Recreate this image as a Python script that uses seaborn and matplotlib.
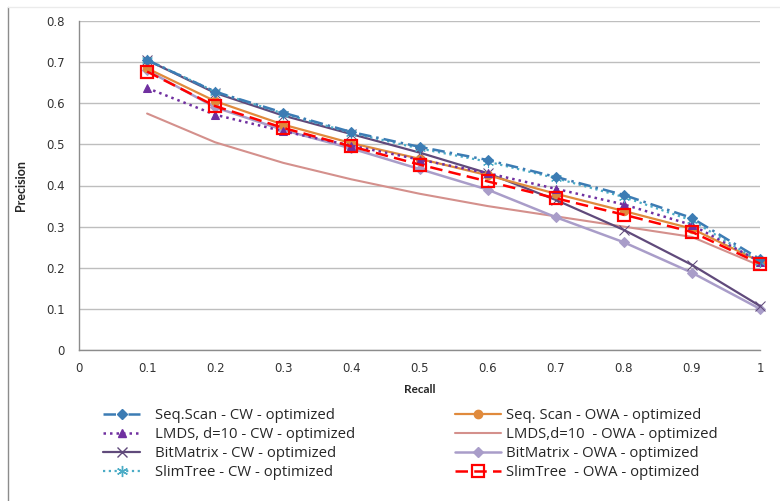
import matplotlib
matplotlib.use("Agg")
import matplotlib.pyplot as plt
import seaborn as sns
import pandas as pd
from matplotlib.lines import Line2D

recall = [0.1, 0.2, 0.3, 0.4, 0.5, 0.6, 0.7, 0.8, 0.9, 1.0]

seqscan_cw = [0.705, 0.628, 0.577, 0.530, 0.494, 0.462, 0.421, 0.377, 0.321, 0.221]
lmds_cw = [0.637, 0.572, 0.532, 0.497, 0.463, 0.430, 0.392, 0.354, 0.304, 0.215]
bitmatrix_cw = [0.705, 0.625, 0.570, 0.525, 0.480, 0.430, 0.365, 0.292, 0.207, 0.107]
slimtree_cw = [0.706, 0.628, 0.575, 0.528, 0.490, 0.458, 0.418, 0.372, 0.315, 0.215]
seqscan_owa = [0.685, 0.605, 0.548, 0.503, 0.465, 0.425, 0.380, 0.338, 0.295, 0.215]
lmds_owa = [0.575, 0.505, 0.455, 0.415, 0.380, 0.350, 0.325, 0.300, 0.275, 0.205]
bitmatrix_owa = [0.680, 0.590, 0.535, 0.490, 0.440, 0.390, 0.323, 0.262, 0.188, 0.100]
slimtree_owa = [0.677, 0.593, 0.540, 0.495, 0.451, 0.410, 0.369, 0.329, 0.287, 0.210]

cw_labels = ["Seq.Scan - CW - optimized", "LMDS, d=10 - CW - optimized",
             "BitMatrix - CW - optimized", "SlimTree - CW - optimized"]
owa_labels = ["Seq. Scan - OWA - optimized", "LMDS,d=10  - OWA - optimized",
              "BitMatrix - OWA - optimized", "SlimTree  - OWA - optimized"]

x_ticks = [0, 0.1, 0.2, 0.3, 0.4, 0.5, 0.6, 0.7, 0.8, 0.9, 1.0]
x_ticklabels = ["0", "0.1", "0.2", "0.3", "0.4", "0.5", "0.6", "0.7", "0.8", "0.9", "1"]
y_ticks = [0, 0.1, 0.2, 0.3, 0.4, 0.5, 0.6, 0.7, 0.8]
y_ticklabels = ["0", "0.1", "0.2", "0.3", "0.4", "0.5", "0.6", "0.7", "0.8"]

sns.set_style("white")
plt.rcParams["font.family"] = ["DejaVu Sans"]

fig = plt.figure(figsize=(7.8, 5.01), dpi=100)
ax = fig.add_axes([79 / 780, 1 - 350 / 501, 681 / 780, 329 / 501])

styles = [
    # (values, label, color, linestyle, marker, mfc, ms, lw)
    (lmds_owa, owa_labels[1], "#D4908C", "-", "None", None, 0, 1.5),
    (bitmatrix_owa, owa_labels[2], "#A99DC9", "-", "D", "#A99DC9", 5, 1.8),
    (bitmatrix_cw, cw_labels[2], "#604A7B", "-", "x", None, 7, 1.6),
    (seqscan_owa, owa_labels[0], "#E08A3C", "-", "o", "#E08A3C", 6, 1.6),
    (lmds_cw, cw_labels[1], "#7030A0", (0, (1, 1.6)), "^", "#7030A0", 6, 1.8),
    (slimtree_cw, cw_labels[3], "#4BACC6", (0, (1, 1.6)), (6, 2, 0), None, 8, 1.6),
    (seqscan_cw, cw_labels[0], "#3C7CB4", (0, (5, 2, 1, 2)), "D", "#3C7CB4", 5, 1.8),
    (slimtree_owa, owa_labels[3], "#FF0000", (0, (5, 2.5)), "s", "none", 8, 1.8),
]

handles = {}
for vals, label, color, ls, marker, mfc, ms, lw in styles:
    df = pd.DataFrame({"Recall": recall, "Precision": vals})
    kw = dict(color=color, linestyle=ls, linewidth=lw, marker=marker,
              markersize=ms, markeredgecolor=color, clip_on=False)
    if mfc is not None:
        kw["markerfacecolor"] = mfc
    if marker == "s":
        kw["markeredgewidth"] = 1.6
    sns.lineplot(data=df, x="Recall", y="Precision", ax=ax, errorbar=None,
                 label=label, legend=False, **kw)
    handles[label] = Line2D([], [], **{k: v for k, v in kw.items() if k != "clip_on"})

ax.set_xlim(0, 1)
ax.set_ylim(0, 0.8)
ax.set_xticks(x_ticks)
ax.set_xticklabels(x_ticklabels)
ax.set_yticks(y_ticks)
ax.set_yticklabels(y_ticklabels)
ax.tick_params(axis="both", length=0, labelsize=8.5, colors="#333333", pad=10)
ax.tick_params(axis="x", pad=9)
ax.grid(axis="y", color="#BEBEBE", linewidth=1.0)
ax.grid(axis="x", visible=False)
for s in ["top", "right"]:
    ax.spines[s].set_visible(False)
for s in ["left", "bottom"]:
    ax.spines[s].set_color("#8C8C8C")
    ax.spines[s].set_linewidth(1.0)
ax.set_axisbelow(True)

ax.set_xlabel("Recall", fontsize=8.5, fontweight="bold", family="Lato", labelpad=6)
ax.set_ylabel("Precision", fontsize=9, fontweight="bold", family="Lato", labelpad=14)

leg_font = {"family": "Open Sans", "size": 10.7}
leg1 = fig.legend([handles[l] for l in cw_labels], cw_labels, loc="upper left",
                  bbox_to_anchor=(103 / 780, 1 - 408 / 501), frameon=False,
                  prop=leg_font, handlelength=2.5, handletextpad=1.0,
                  labelspacing=0.28, borderpad=0, borderaxespad=0)
leg2 = fig.legend([handles[l] for l in owa_labels], owa_labels, loc="upper left",
                  bbox_to_anchor=(455 / 780, 1 - 408 / 501), frameon=False,
                  prop=leg_font, handlelength=3.1, handletextpad=0.3,
                  labelspacing=0.28, borderpad=0, borderaxespad=0)
for t in leg1.get_texts() + leg2.get_texts():
    t.set_color("#262626")

# chart area border (left edge and faint top)
fig.add_artist(Line2D([7.5 / 780, 7.5 / 780], [0, 1 - 7 / 501], color="#8C8C8C",
                      linewidth=1.0, transform=fig.transFigure))
fig.add_artist(Line2D([7.5 / 780, 1], [1 - 7 / 501, 1 - 7 / 501], color="#EBEBEB",
                      linewidth=1.0, transform=fig.transFigure))

fig.savefig("out.png", dpi=100)
